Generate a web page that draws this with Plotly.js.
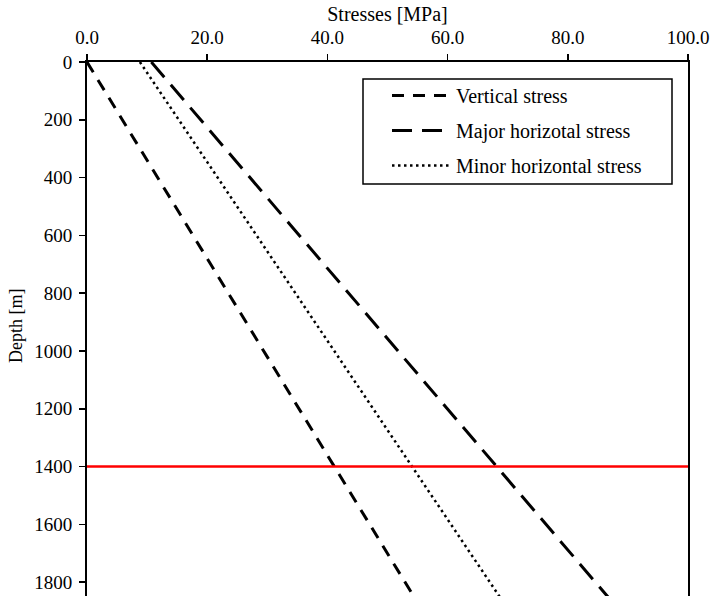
<!DOCTYPE html>
<html>
<head>
<meta charset="utf-8">
<script src="https://cdn.plot.ly/plotly-3.0.1.min.js"></script>
<style>html,body{margin:0;padding:0;overflow:hidden;background:#fff;}</style>
</head>
<body>
<div id="chart" style="width:711px;height:680px;"></div>
<script>
// Depths (m) and stresses (MPa)
const depth = [0, 2000];
const verticalStress = [0, 58.8];
const majorHorizontalStress = [10.7, 92.8];
const minorHorizontalStress = [8.8, 73.5];
const markerDepth = [1400, 1400];
const markerStress = [0, 100];
const seriesNames = ["Vertical stress", "Major horizotal stress", "Minor horizontal stress"];
const depthTicks = [0, 200, 400, 600, 800, 1000, 1200, 1400, 1600, 1800];

const traces = [
  {x: verticalStress, y: depth, mode: "lines", name: seriesNames[0], legendgroup: "a",
   line: {color: "#000", width: 3, dash: "12px,9px"}},
  {x: majorHorizontalStress, y: depth, mode: "lines", name: seriesNames[1], legendgroup: "b",
   line: {color: "#000", width: 3, dash: "20px,10px"}},
  {x: minorHorizontalStress, y: depth, mode: "lines", name: seriesNames[2], legendgroup: "c",
   line: {color: "#000", width: 2.5, dash: "2.5px,3.5px"}},
  {x: markerStress, y: markerDepth, mode: "lines", showlegend: false,
   line: {color: "#ff0000", width: 2.5}}
];

const fam = "Liberation Serif, Times New Roman, serif";
const tickFont = {family: fam, size: 19, color: "#000"};
const titleFont = {family: fam, size: 20, color: "#000"};
const yTitleFont = {family: fam, size: 18, color: "#000"};

// plot area: x 87..688, y 62..640
const L = 87, R = 688, T = 62, B = 640;
const px = v => (v - L) / (R - L);
const py = v => (B - v) / (B - T);

const layout = {
  width: 711, height: 680,
  margin: {l: L, r: 711 - R, t: T, b: 680 - B},
  paper_bgcolor: "#fff", plot_bgcolor: "#fff",
  font: tickFont,
  showlegend: true,
  xaxis: {
    side: "top", range: [0, 100], dtick: 20, tick0: 0, tickformat: ".1f",
    ticks: "outside", ticklen: 6, tickwidth: 1.5, tickcolor: "#000",
    tickfont: tickFont, ticklabelstandoff: 2,
    showline: true, linecolor: "#000", linewidth: 2, mirror: true,
    showgrid: false, zeroline: false,
    title: {text: "Stresses [MPa]", font: titleFont, standoff: 0}
  },
  yaxis: {
    range: [2000, 0], tickmode: "array", tickvals: depthTicks,
    ticks: "outside", ticklen: 6, tickwidth: 1.5, tickcolor: "#000",
    tickfont: tickFont, ticklabelstandoff: 3,
    showline: true, linecolor: "#000", linewidth: 2, mirror: true,
    showgrid: false, zeroline: false
  },
  annotations: [
    {text: "Depth [m]", xref: "paper", yref: "paper", x: px(16), y: py(326),
     xanchor: "center", yanchor: "middle", textangle: -90, showarrow: false, font: yTitleFont}
  ],
  legend: {
    x: px(387), y: py(76), xanchor: "left", yanchor: "top",
    borderwidth: 0, bgcolor: "rgba(0,0,0,0)",
    font: titleFont, itemwidth: 59, traceorder: "grouped", tracegroupgap: 6
  },
  shapes: [
    {type: "rect", xref: "paper", yref: "paper",
     x0: px(363), x1: px(672), y0: py(184), y1: py(79),
     line: {color: "#000", width: 1.5}, fillcolor: "rgba(0,0,0,0)", layer: "above"}
  ]
};

Plotly.newPlot("chart", traces, layout, {displayModeBar: false, staticPlot: true});
</script>
</body>
</html>
